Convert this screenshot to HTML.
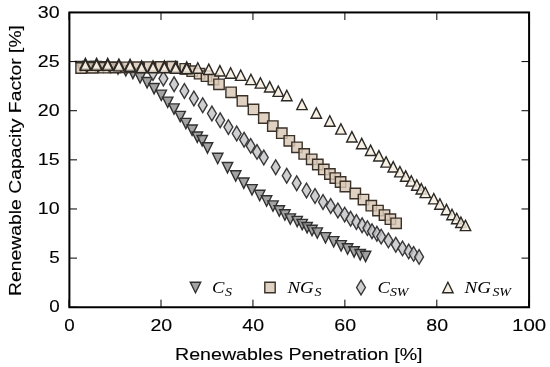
<!DOCTYPE html>
<html><head><meta charset="utf-8"><style>
html,body{margin:0;padding:0;background:#fff;}
body{width:550px;height:367px;overflow:hidden;}
svg{display:block;}
svg{will-change:transform;filter:blur(0.3px);}
</style></head><body>
<svg width="550" height="367" viewBox="0 0 550 367">
<rect width="550" height="367" fill="#fff"/>
<g fill="#8f8f8f" fill-opacity="0.82" stroke="#303030" stroke-width="1.4" stroke-linejoin="miter" stroke-miterlimit="10">
<path d="M75.60,61.40L86.00,61.40L80.80,71.80Z"/>
<path d="M83.10,61.40L93.50,61.40L88.30,71.80Z"/>
<path d="M90.60,61.50L101.00,61.50L95.80,71.90Z"/>
<path d="M98.10,61.70L108.50,61.70L103.30,72.10Z"/>
<path d="M105.60,62.20L116.00,62.20L110.80,72.60Z"/>
<path d="M112.80,63.70L123.20,63.70L118.00,74.10Z"/>
<path d="M120.60,65.60L131.00,65.60L125.80,76.00Z"/>
<path d="M127.70,68.20L138.10,68.20L132.90,78.60Z"/>
<path d="M134.90,72.60L145.30,72.60L140.10,83.00Z"/>
<path d="M141.90,77.50L152.30,77.50L147.10,87.90Z"/>
<path d="M148.90,83.50L159.30,83.50L154.10,93.90Z"/>
<path d="M156.10,90.10L166.50,90.10L161.30,100.50Z"/>
<path d="M162.50,97.10L172.90,97.10L167.70,107.50Z"/>
<path d="M168.80,103.90L179.20,103.90L174.00,114.30Z"/>
<path d="M175.00,111.40L185.40,111.40L180.20,121.80Z"/>
<path d="M180.70,118.40L191.10,118.40L185.90,128.80Z"/>
<path d="M186.90,125.00L197.30,125.00L192.10,135.40Z"/>
<path d="M192.10,132.00L202.50,132.00L197.30,142.40Z"/>
<path d="M197.00,135.50L207.40,135.50L202.20,145.90Z"/>
<path d="M202.30,142.70L212.70,142.70L207.50,153.10Z"/>
<path d="M212.50,153.30L222.90,153.30L217.70,163.70Z"/>
<path d="M222.30,162.50L232.70,162.50L227.50,172.90Z"/>
<path d="M230.50,170.70L240.90,170.70L235.70,181.10Z"/>
<path d="M238.60,178.00L249.00,178.00L243.80,188.40Z"/>
<path d="M246.80,184.60L257.20,184.60L252.00,195.00Z"/>
<path d="M254.50,190.30L264.90,190.30L259.70,200.70Z"/>
<path d="M261.40,195.80L271.80,195.80L266.60,206.20Z"/>
<path d="M267.80,200.90L278.20,200.90L273.00,211.30Z"/>
<path d="M274.10,205.80L284.50,205.80L279.30,216.20Z"/>
<path d="M279.70,209.80L290.10,209.80L284.90,220.20Z"/>
<path d="M285.10,213.90L295.50,213.90L290.30,224.30Z"/>
<path d="M292.00,216.40L302.40,216.40L297.20,226.80Z"/>
<path d="M297.00,219.40L307.40,219.40L302.20,229.80Z"/>
<path d="M301.90,222.50L312.30,222.50L307.10,232.90Z"/>
<path d="M306.80,225.30L317.20,225.30L312.00,235.70Z"/>
<path d="M312.10,227.90L322.50,227.90L317.30,238.30Z"/>
<path d="M320.30,232.60L330.70,232.60L325.50,243.00Z"/>
<path d="M328.50,236.60L338.90,236.60L333.70,247.00Z"/>
<path d="M335.90,240.60L346.30,240.60L341.10,251.00Z"/>
<path d="M342.40,243.80L352.80,243.80L347.60,254.20Z"/>
<path d="M348.90,246.70L359.30,246.70L354.10,257.10Z"/>
<path d="M355.00,249.50L365.40,249.50L360.20,259.90Z"/>
<path d="M360.40,251.20L370.80,251.20L365.60,261.60Z"/>
</g>
<g fill="#c4c4c8" fill-opacity="0.82" stroke="#383838" stroke-width="1.4" stroke-linejoin="miter" stroke-miterlimit="10">
<path d="M153.00,65.65L157.41,73.00L153.00,80.35L148.59,73.00Z"/>
<path d="M163.40,71.25L167.81,78.60L163.40,85.95L158.99,78.60Z"/>
<path d="M174.10,76.95L178.51,84.30L174.10,91.65L169.69,84.30Z"/>
<path d="M184.40,83.65L188.81,91.00L184.40,98.35L179.99,91.00Z"/>
<path d="M193.90,91.15L198.31,98.50L193.90,105.85L189.49,98.50Z"/>
<path d="M202.70,97.85L207.11,105.20L202.70,112.55L198.29,105.20Z"/>
<path d="M211.90,106.15L216.31,113.50L211.90,120.85L207.49,113.50Z"/>
<path d="M220.20,112.95L224.61,120.30L220.20,127.65L215.79,120.30Z"/>
<path d="M228.40,119.75L232.81,127.10L228.40,134.45L223.99,127.10Z"/>
<path d="M236.70,126.15L241.11,133.50L236.70,140.85L232.29,133.50Z"/>
<path d="M244.10,132.45L248.51,139.80L244.10,147.15L239.69,139.80Z"/>
<path d="M250.70,138.55L255.11,145.90L250.70,153.25L246.29,145.90Z"/>
<path d="M257.00,144.55L261.41,151.90L257.00,159.25L252.59,151.90Z"/>
<path d="M263.80,150.15L268.21,157.50L263.80,164.85L259.39,157.50Z"/>
<path d="M275.70,159.85L280.11,167.20L275.70,174.55L271.29,167.20Z"/>
<path d="M286.70,168.35L291.11,175.70L286.70,183.05L282.29,175.70Z"/>
<path d="M296.70,175.85L301.11,183.20L296.70,190.55L292.29,183.20Z"/>
<path d="M306.50,183.15L310.91,190.50L306.50,197.85L302.09,190.50Z"/>
<path d="M315.00,188.65L319.41,196.00L315.00,203.35L310.59,196.00Z"/>
<path d="M323.00,194.65L327.41,202.00L323.00,209.35L318.59,202.00Z"/>
<path d="M330.70,198.65L335.11,206.00L330.70,213.35L326.29,206.00Z"/>
<path d="M337.90,203.15L342.31,210.50L337.90,217.85L333.49,210.50Z"/>
<path d="M344.70,207.25L349.11,214.60L344.70,221.95L340.29,214.60Z"/>
<path d="M350.60,211.45L355.01,218.80L350.60,226.15L346.19,218.80Z"/>
<path d="M356.40,214.65L360.81,222.00L356.40,229.35L351.99,222.00Z"/>
<path d="M362.10,217.95L366.51,225.30L362.10,232.65L357.69,225.30Z"/>
<path d="M367.40,220.75L371.81,228.10L367.40,235.45L362.99,228.10Z"/>
<path d="M372.00,223.95L376.41,231.30L372.00,238.65L367.59,231.30Z"/>
<path d="M376.90,226.45L381.31,233.80L376.90,241.15L372.49,233.80Z"/>
<path d="M381.20,229.25L385.61,236.60L381.20,243.95L376.79,236.60Z"/>
<path d="M388.40,233.05L392.81,240.40L388.40,247.75L383.99,240.40Z"/>
<path d="M395.80,237.35L400.21,244.70L395.80,252.05L391.39,244.70Z"/>
<path d="M402.50,241.05L406.91,248.40L402.50,255.75L398.09,248.40Z"/>
<path d="M408.70,244.05L413.11,251.40L408.70,258.75L404.29,251.40Z"/>
<path d="M413.60,246.55L418.01,253.90L413.60,261.25L409.19,253.90Z"/>
<path d="M419.10,249.55L423.51,256.90L419.10,264.25L414.69,256.90Z"/>
</g>
<g fill="#d9c8b5" fill-opacity="0.82" stroke="#3a3128" stroke-width="1.4" stroke-linejoin="miter" stroke-miterlimit="10">
<path d="M75.90,62.80H86.30V73.20H75.90Z"/>
<path d="M87.30,62.64H97.70V73.04H87.30Z"/>
<path d="M98.70,62.48H109.10V72.88H98.70Z"/>
<path d="M110.10,62.32H120.50V72.72H110.10Z"/>
<path d="M121.50,62.16H131.90V72.56H121.50Z"/>
<path d="M132.90,62.00H143.30V72.40H132.90Z"/>
<path d="M144.30,61.84H154.70V72.24H144.30Z"/>
<path d="M155.70,61.68H166.10V72.08H155.70Z"/>
<path d="M167.10,61.52H177.50V71.92H167.10Z"/>
<path d="M180.00,63.60H190.40V74.00H180.00Z"/>
<path d="M187.00,66.00H197.40V76.40H187.00Z"/>
<path d="M194.40,68.50H204.80V78.90H194.40Z"/>
<path d="M201.30,71.00H211.70V81.40H201.30Z"/>
<path d="M208.20,74.30H218.60V84.70H208.20Z"/>
<path d="M213.80,79.10H224.20V89.50H213.80Z"/>
<path d="M225.90,87.10H236.30V97.50H225.90Z"/>
<path d="M237.20,95.70H247.60V106.10H237.20Z"/>
<path d="M248.30,104.20H258.70V114.60H248.30Z"/>
<path d="M258.60,112.80H269.00V123.20H258.60Z"/>
<path d="M267.60,120.90H278.00V131.30H267.60Z"/>
<path d="M276.60,128.00H287.00V138.40H276.60Z"/>
<path d="M284.10,135.60H294.50V146.00H284.10Z"/>
<path d="M291.80,142.10H302.20V152.50H291.80Z"/>
<path d="M299.00,148.70H309.40V159.10H299.00Z"/>
<path d="M306.50,154.10H316.90V164.50H306.50Z"/>
<path d="M312.60,159.30H323.00V169.70H312.60Z"/>
<path d="M318.60,164.20H329.00V174.60H318.60Z"/>
<path d="M324.70,168.80H335.10V179.20H324.70Z"/>
<path d="M330.10,172.90H340.50V183.30H330.10Z"/>
<path d="M335.40,176.80H345.80V187.20H335.40Z"/>
<path d="M340.20,181.30H350.60V191.70H340.20Z"/>
<path d="M350.10,188.30H360.50V198.70H350.10Z"/>
<path d="M358.30,194.40H368.70V204.80H358.30Z"/>
<path d="M366.10,200.50H376.50V210.90H366.10Z"/>
<path d="M372.80,205.40H383.20V215.80H372.80Z"/>
<path d="M379.30,209.90H389.70V220.30H379.30Z"/>
<path d="M385.20,214.00H395.60V224.40H385.20Z"/>
<path d="M390.90,218.10H401.30V228.50H390.90Z"/>
</g>
<g fill="#f5eddf" fill-opacity="0.82" stroke="#2c2824" stroke-width="1.4" stroke-linejoin="miter" stroke-miterlimit="10">
<path d="M85.40,58.40L90.60,68.80L80.20,68.80Z"/>
<path d="M96.60,58.40L101.80,68.80L91.40,68.80Z"/>
<path d="M107.70,58.40L112.90,68.80L102.50,68.80Z"/>
<path d="M118.90,59.00L124.10,69.40L113.70,69.40Z"/>
<path d="M130.10,59.30L135.30,69.70L124.90,69.70Z"/>
<path d="M141.60,60.90L146.80,71.30L136.40,71.30Z"/>
<path d="M153.00,60.90L158.20,71.30L147.80,71.30Z"/>
<path d="M164.40,60.90L169.60,71.30L159.20,71.30Z"/>
<path d="M175.70,61.40L180.90,71.80L170.50,71.80Z"/>
<path d="M186.70,61.90L191.90,72.30L181.50,72.30Z"/>
<path d="M85.40,59.90L90.60,70.30L80.20,70.30Z"/>
<path d="M96.60,59.90L101.80,70.30L91.40,70.30Z"/>
<path d="M107.70,59.90L112.90,70.30L102.50,70.30Z"/>
<path d="M118.90,60.50L124.10,70.90L113.70,70.90Z"/>
<path d="M130.10,60.80L135.30,71.20L124.90,71.20Z"/>
<path d="M141.60,62.40L146.80,72.80L136.40,72.80Z"/>
<path d="M153.00,62.40L158.20,72.80L147.80,72.80Z"/>
<path d="M164.40,62.40L169.60,72.80L159.20,72.80Z"/>
<path d="M175.70,62.90L180.90,73.30L170.50,73.30Z"/>
<path d="M186.70,63.40L191.90,73.80L181.50,73.80Z"/>
<path d="M197.80,62.80L203.00,73.20L192.60,73.20Z"/>
<path d="M208.80,64.10L214.00,74.50L203.60,74.50Z"/>
<path d="M219.90,65.60L225.10,76.00L214.70,76.00Z"/>
<path d="M230.60,67.80L235.80,78.20L225.40,78.20Z"/>
<path d="M240.70,70.00L245.90,80.40L235.50,80.40Z"/>
<path d="M250.90,74.20L256.10,84.60L245.70,84.60Z"/>
<path d="M260.40,77.70L265.60,88.10L255.20,88.10Z"/>
<path d="M269.70,81.60L274.90,92.00L264.50,92.00Z"/>
<path d="M278.30,86.00L283.50,96.40L273.10,96.40Z"/>
<path d="M286.80,90.30L292.00,100.70L281.60,100.70Z"/>
<path d="M302.00,99.20L307.20,109.60L296.80,109.60Z"/>
<path d="M316.30,107.90L321.50,118.30L311.10,118.30Z"/>
<path d="M329.80,115.80L335.00,126.20L324.60,126.20Z"/>
<path d="M340.90,123.70L346.10,134.10L335.70,134.10Z"/>
<path d="M351.90,131.60L357.10,142.00L346.70,142.00Z"/>
<path d="M361.70,138.40L366.90,148.80L356.50,148.80Z"/>
<path d="M370.60,145.10L375.80,155.50L365.40,155.50Z"/>
<path d="M378.90,150.60L384.10,161.00L373.70,161.00Z"/>
<path d="M386.10,156.70L391.30,167.10L380.90,167.10Z"/>
<path d="M393.20,161.60L398.40,172.00L388.00,172.00Z"/>
<path d="M399.90,166.50L405.10,176.90L394.70,176.90Z"/>
<path d="M405.70,170.90L410.90,181.30L400.50,181.30Z"/>
<path d="M411.30,175.70L416.50,186.10L406.10,186.10Z"/>
<path d="M416.80,179.80L422.00,190.20L411.60,190.20Z"/>
<path d="M421.30,183.60L426.50,194.00L416.10,194.00Z"/>
<path d="M425.30,187.20L430.50,197.60L420.10,197.60Z"/>
<path d="M433.80,193.50L439.00,203.90L428.60,203.90Z"/>
<path d="M439.90,198.80L445.10,209.20L434.70,209.20Z"/>
<path d="M446.50,204.40L451.70,214.80L441.30,214.80Z"/>
<path d="M452.00,209.30L457.20,219.70L446.80,219.70Z"/>
<path d="M456.70,213.30L461.90,223.70L451.50,223.70Z"/>
<path d="M460.90,217.10L466.10,227.50L455.70,227.50Z"/>
<path d="M465.50,220.20L470.70,230.60L460.30,230.60Z"/>
</g>
<path d="M69.06,307.25V299.65M69.06,12.45V20.05M161.00,307.25V299.65M161.00,12.45V20.05M252.94,307.25V299.65M252.94,12.45V20.05M344.88,307.25V299.65M344.88,12.45V20.05M436.82,307.25V299.65M436.82,12.45V20.05M528.76,307.25V299.65M528.76,12.45V20.05M69.40,307.25H77.00M529.10,307.25H521.50M69.40,258.12H77.00M529.10,258.12H521.50M69.40,208.98H77.00M529.10,208.98H521.50M69.40,159.85H77.00M529.10,159.85H521.50M69.40,110.72H77.00M529.10,110.72H521.50M69.40,61.58H77.00M529.10,61.58H521.50M69.40,12.45H77.00M529.10,12.45H521.50" stroke="#000" stroke-width="1" fill="none"/>
<rect x="69.4" y="12.45" width="459.70" height="294.80" fill="none" stroke="#000" stroke-width="2"/>
<g font-family="Liberation Sans, sans-serif" font-size="16.7" fill="#000" stroke="#000" stroke-width="0.12"><text x="69.40" y="330.6" text-anchor="middle" textLength="10.45" lengthAdjust="spacingAndGlyphs">0</text><text x="161.34" y="330.6" text-anchor="middle" textLength="21.8" lengthAdjust="spacingAndGlyphs">20</text><text x="253.28" y="330.6" text-anchor="middle" textLength="21.8" lengthAdjust="spacingAndGlyphs">40</text><text x="345.22" y="330.6" text-anchor="middle" textLength="21.8" lengthAdjust="spacingAndGlyphs">60</text><text x="437.16" y="330.6" text-anchor="middle" textLength="21.8" lengthAdjust="spacingAndGlyphs">80</text><text x="529.10" y="330.6" text-anchor="middle" textLength="34.2" lengthAdjust="spacingAndGlyphs">100</text><text x="59.60" y="312.45" text-anchor="end" textLength="10.45" lengthAdjust="spacingAndGlyphs">0</text><text x="59.60" y="263.32" text-anchor="end" textLength="10.45" lengthAdjust="spacingAndGlyphs">5</text><text x="59.60" y="214.18" text-anchor="end" textLength="21.8" lengthAdjust="spacingAndGlyphs">10</text><text x="59.60" y="165.05" text-anchor="end" textLength="21.8" lengthAdjust="spacingAndGlyphs">15</text><text x="59.60" y="115.92" text-anchor="end" textLength="21.8" lengthAdjust="spacingAndGlyphs">20</text><text x="59.60" y="66.78" text-anchor="end" textLength="21.8" lengthAdjust="spacingAndGlyphs">25</text><text x="59.60" y="17.65" text-anchor="end" textLength="21.8" lengthAdjust="spacingAndGlyphs">30</text></g>
<text x="298.8" y="359.7" text-anchor="middle" font-family="Liberation Sans, sans-serif" font-size="17.2" stroke="#000" stroke-width="0.12" textLength="247.5" lengthAdjust="spacingAndGlyphs">Renewables Penetration [%]</text>
<text transform="translate(20.6,160.5) rotate(-90)" x="0" y="0" text-anchor="middle" font-family="Liberation Sans, sans-serif" font-size="17.2" stroke="#000" stroke-width="0.12" textLength="271" lengthAdjust="spacingAndGlyphs">Renewable Capacity Factor [%]</text>
<g fill="#8f8f8f" fill-opacity="0.82" stroke="#303030" stroke-width="1.4" stroke-linejoin="miter" stroke-miterlimit="10">
<path d="M190.30,282.30L200.70,282.30L195.50,292.70Z"/>
</g>
<g fill="#d9c8b5" fill-opacity="0.82" stroke="#3a3128" stroke-width="1.4" stroke-linejoin="miter" stroke-miterlimit="10">
<path d="M264.80,282.30H275.20V292.70H264.80Z"/>
</g>
<g fill="#c4c4c8" fill-opacity="0.82" stroke="#383838" stroke-width="1.4" stroke-linejoin="miter" stroke-miterlimit="10">
<path d="M361.00,280.15L365.41,287.50L361.00,294.85L356.59,287.50Z"/>
</g>
<g fill="#f5eddf" fill-opacity="0.82" stroke="#2c2824" stroke-width="1.4" stroke-linejoin="miter" stroke-miterlimit="10">
<path d="M447.90,282.30L453.10,292.70L442.70,292.70Z"/>
</g>
<text x="212.0" y="292.6" font-family="Liberation Serif, serif" font-style="italic" font-size="17.4" textLength="12.4" lengthAdjust="spacingAndGlyphs">C</text><text x="224.9" y="295.7" font-family="Liberation Serif, serif" font-style="italic" font-size="12.6" textLength="7.0" lengthAdjust="spacingAndGlyphs">S</text>
<text x="287.4" y="292.6" font-family="Liberation Serif, serif" font-style="italic" font-size="17.4" textLength="26.4" lengthAdjust="spacingAndGlyphs">NG</text><text x="314.6" y="295.7" font-family="Liberation Serif, serif" font-style="italic" font-size="12.6" textLength="7.0" lengthAdjust="spacingAndGlyphs">S</text>
<text x="377.5" y="292.6" font-family="Liberation Serif, serif" font-style="italic" font-size="17.4" textLength="12.4" lengthAdjust="spacingAndGlyphs">C</text><text x="389.9" y="295.7" font-family="Liberation Serif, serif" font-style="italic" font-size="12.6" textLength="18.6" lengthAdjust="spacingAndGlyphs">SW</text>
<text x="464.6" y="292.6" font-family="Liberation Serif, serif" font-style="italic" font-size="17.4" textLength="26.4" lengthAdjust="spacingAndGlyphs">NG</text><text x="492.4" y="295.7" font-family="Liberation Serif, serif" font-style="italic" font-size="12.6" textLength="18.6" lengthAdjust="spacingAndGlyphs">SW</text>
</svg>
</body></html>
